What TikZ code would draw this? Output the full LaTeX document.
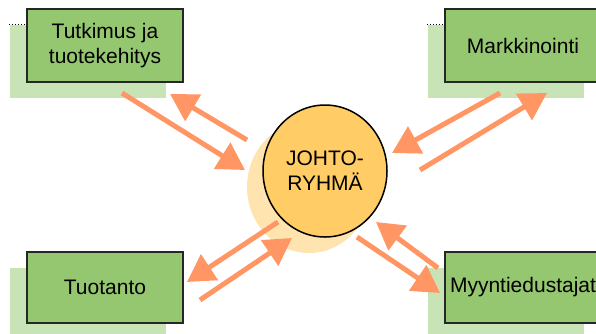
\documentclass[tikz,border=0pt]{standalone}
\usepackage{fontspec}
\setmainfont{Liberation Sans}
\usetikzlibrary{arrows.meta,shadows,shapes.geometric}

\definecolor{boxgreen}{RGB}{148,199,112}
\definecolor{shadegreen}{RGB}{200,228,182}
\definecolor{ballorange}{RGB}{255,204,102}
\definecolor{shadeorange}{RGB}{255,228,176}
\definecolor{arroworange}{RGB}{255,150,100}

\tikzset{
  dept/.style={draw=black!85, line width=1.5pt, fill=boxgreen,
    minimum width=156pt, minimum height=73pt, align=center,
    font=\fontsize{21}{25}\selectfont,
    drop shadow={shadow xshift=-17pt, shadow yshift=-16pt, fill=shadegreen, opacity=1}},
  lead/.style={ellipse, draw=black, line width=1.5pt, fill=ballorange,
    minimum width=124pt, minimum height=132pt, inner sep=0pt, align=center,
    font=\fontsize{21}{25}\selectfont,
    drop shadow={shadow xshift=-16pt, shadow yshift=-16pt, fill=shadeorange, opacity=1}},
  flow/.style={draw=arroworange, line width=5pt,
    -{Triangle[length=27pt,width=30pt]}}
}

\begin{document}
\begin{tikzpicture}[x=1pt,y=-1pt]
        \useasboundingbox (0,0) rectangle (596,333);
        \clip (0,0) rectangle (596,333);

        % Group in the middle
        \node[lead] (jr) at (325,171) {JOHTO-\\RYHMÄ};

        % Departments
        \node[dept] (tk) at (105,45.5) {Tutkimus ja\\tuotekehitys};
        \node[dept] (mk) at (523,45.5) {Markkinointi};
        \node[dept, minimum height=71pt] (tu) at (105,287.5) {Tuotanto};
        \node[dept, minimum height=71pt] (my) at (523,287.5) {Myyntiedustajat};

        % dotted edge on top of the shadows
        \draw[dotted, line width=1pt] ([xshift=-17pt,yshift=-16pt]tk.north west) -- ([yshift=-16pt]tk.north west);
        \draw[dotted, line width=1pt] ([xshift=-17pt,yshift=-16pt]mk.north west) -- ([yshift=-16pt]mk.north west);

        % Arrow ends
        \coordinate (tk-a) at (122,93);  \coordinate (jr-a) at (245,170);
        \coordinate (jr-b) at (247,140); \coordinate (tk-b) at (170,94);
        \coordinate (mk-a) at (500,93);  \coordinate (jr-c) at (392,153);
        \coordinate (jr-d) at (420,170); \coordinate (mk-b) at (547,93);
        \coordinate (jr-e) at (278,222); \coordinate (tu-a) at (187,282);
        \coordinate (tu-b) at (200,300); \coordinate (jr-f) at (292,238);
        \coordinate (my-a) at (438,268); \coordinate (jr-g) at (376,222);
        \coordinate (jr-h) at (357,237); \coordinate (my-b) at (440,293);

        % Draw the arrows
        \draw[flow] (tk-a) -- (jr-a);
        \draw[flow] (jr-b) -- (tk-b);
        \draw[flow] (mk-a) -- (jr-c);
        \draw[flow] (jr-d) -- (mk-b);
        \draw[flow] (jr-e) -- (tu-a);
        \draw[flow] (tu-b) -- (jr-f);
        \draw[flow] (my-a) -- (jr-g);
        \draw[flow] (jr-h) -- (my-b);
\end{tikzpicture}
\end{document}
